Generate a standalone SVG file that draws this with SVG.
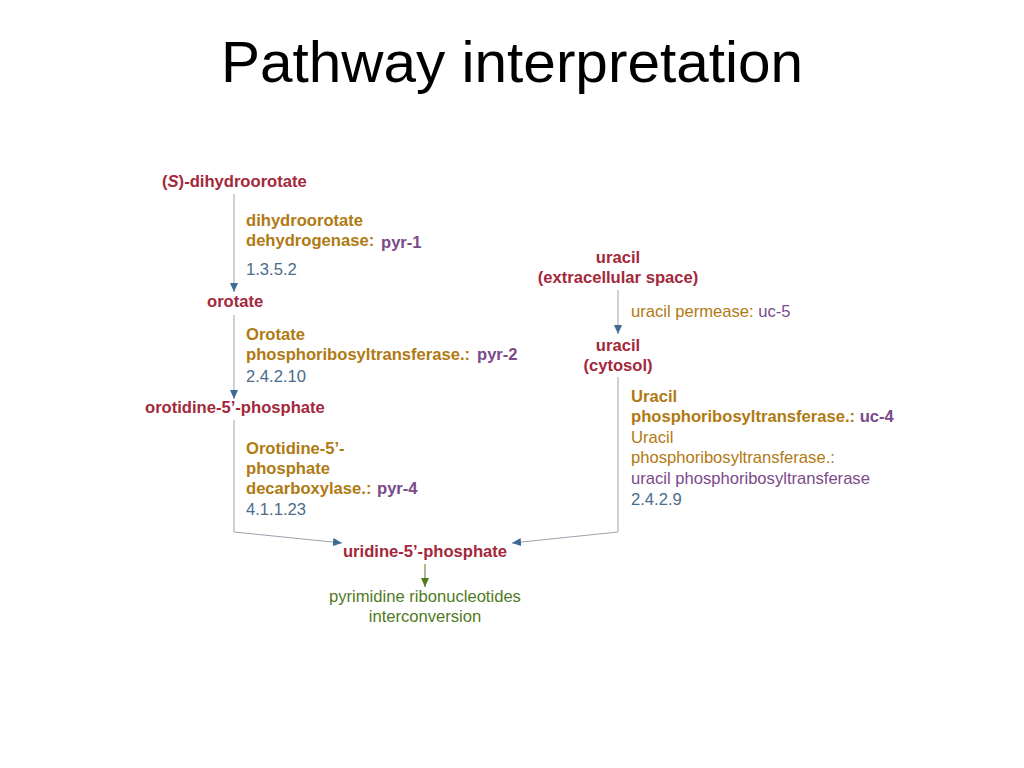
<svg xmlns="http://www.w3.org/2000/svg" width="1024" height="768" viewBox="0 0 1024 768">
<style>
text{font-family:"Liberation Sans",Arial,Helvetica,sans-serif;font-size:16.6px}
.b{font-weight:bold}
.cpd{fill:#a3283b;font-weight:bold}
.enz{fill:#b07a12}
.gene{fill:#7b4a8a}
.ec{fill:#4a6d8c}
.path{fill:#4f7a1e}
.ln{fill:none;stroke:#9aa3ad;stroke-width:1}
.title{font-family:"Liberation Sans",Arial,sans-serif;font-size:57px;fill:#000}
</style>
<defs>
<marker id="ab" markerWidth="10" markerHeight="10" refX="9" refY="5" orient="auto" markerUnits="userSpaceOnUse">
<path d="M0,1 L9,5 L0,9 Z" fill="#3e6a93"/>
</marker>
<marker id="ag" markerWidth="10" markerHeight="10" refX="9" refY="5" orient="auto" markerUnits="userSpaceOnUse">
<path d="M0,1 L9,5 L0,9 Z" fill="#4f7a1e"/>
</marker>
</defs>
<rect width="1024" height="768" fill="#fff"/>
<text class="title" x="512" y="82" text-anchor="middle" textLength="582" lengthAdjust="spacingAndGlyphs">Pathway interpretation</text>

<g id="connectors">
<line class="ln" x1="234" y1="194" x2="234" y2="292" marker-end="url(#ab)"/>
<line class="ln" x1="234" y1="315" x2="234" y2="399" marker-end="url(#ab)"/>
<polyline class="ln" points="234,420 234,532 342,543" marker-end="url(#ab)"/>
<line class="ln" x1="618" y1="290" x2="618" y2="334" marker-end="url(#ab)"/>
<polyline class="ln" points="618,377 618,532 512,543" marker-end="url(#ab)"/>
<line x1="425" y1="564" x2="425" y2="587" stroke="#4f7a1e" stroke-width="1" marker-end="url(#ag)"/>
</g>

<g id="n-dihydroorotate"><text class="cpd" x="162" y="187">(<tspan font-style="italic">S</tspan>)-dihydroorotate</text></g>
<g id="r-pyr1">
<text class="enz b" x="246" y="226">dihydroorotate</text>
<text class="enz b" x="246" y="246">dehydrogenase:</text>
<text class="gene b" x="381" y="248">pyr-1</text>
<text class="ec" x="246" y="275">1.3.5.2</text>
</g>
<g id="n-orotate"><text class="cpd" x="207" y="307">orotate</text></g>
<g id="r-pyr2">
<text class="enz b" x="246" y="340">Orotate</text>
<text class="enz b" x="246" y="360">phosphoribosyltransferase.:</text>
<text class="gene b" x="477" y="360">pyr-2</text>
<text class="ec" x="246" y="382">2.4.2.10</text>
</g>
<g id="n-omp"><text class="cpd" x="145" y="413">orotidine-5’-phosphate</text></g>
<g id="r-pyr4">
<text class="enz b" x="246" y="454">Orotidine-5’-</text>
<text class="enz b" x="246" y="474">phosphate</text>
<text class="enz b" x="246" y="494">decarboxylase.:</text>
<text class="gene b" x="377" y="494">pyr-4</text>
<text class="ec" x="246" y="515">4.1.1.23</text>
</g>
<g id="n-ump"><text class="cpd" x="425" y="557" text-anchor="middle">uridine-5’-phosphate</text></g>
<g id="n-pathway">
<text class="path" x="425" y="602" text-anchor="middle">pyrimidine ribonucleotides</text>
<text class="path" x="425" y="622" text-anchor="middle">interconversion</text>
</g>
<g id="n-uracil-ext">
<text class="cpd" x="618" y="263" text-anchor="middle">uracil</text>
<text class="cpd" x="618" y="283" text-anchor="middle">(extracellular space)</text>
</g>
<g id="r-uc5">
<text x="631" y="317"><tspan class="enz">uracil permease: </tspan><tspan class="gene">uc-5</tspan></text>
</g>
<g id="n-uracil-cyt">
<text class="cpd" x="618" y="351" text-anchor="middle">uracil</text>
<text class="cpd" x="618" y="371" text-anchor="middle">(cytosol)</text>
</g>
<g id="r-uc4">
<text class="enz b" x="631" y="402">Uracil</text>
<text class="b" x="631" y="422"><tspan class="enz">phosphoribosyltransferase.: </tspan><tspan class="gene">uc-4</tspan></text>
<text class="enz" x="631" y="443">Uracil</text>
<text class="enz" x="631" y="463">phosphoribosyltransferase.:</text>
<text class="gene" x="631" y="484">uracil phosphoribosyltransferase</text>
<text class="ec" x="631" y="505">2.4.2.9</text>
</g>
</svg>
